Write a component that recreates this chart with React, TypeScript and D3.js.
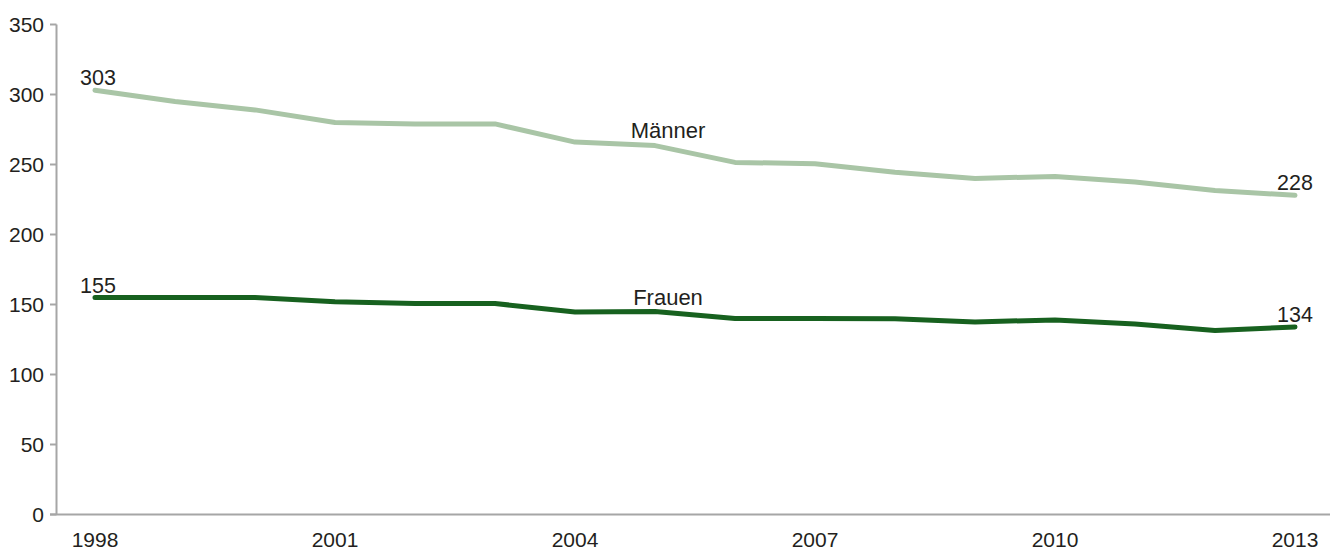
import React from "react";
import * as d3 from "d3";

const years = [1998, 1999, 2000, 2001, 2002, 2003, 2004, 2005, 2006, 2007, 2008, 2009, 2010, 2011, 2012, 2013];
const maenner = [303, 295, 289, 280, 279, 279, 266, 263.5, 251.5, 250.5, 244.5, 240, 241.5, 237.5, 231.5, 228];
const frauen = [155, 155, 155, 152, 150.7, 150.7, 144.6, 145, 140, 140, 139.8, 137.5, 139, 136, 131.5, 134];
const yTicks = [0, 50, 100, 150, 200, 250, 300, 350];
const xTicks = [1998, 2001, 2004, 2007, 2010, 2013];
const seriesNames = ["Männer", "Frauen"];

const W = 1336;
const H = 549;
const FONT = "'Liberation Sans', Arial, sans-serif";

export default function App() {
  const x = d3.scaleLinear().domain([1998, 2013]).range([95, 1295]);
  const y = d3.scaleLinear().domain([0, 350]).range([514.5, 24.5]);
  const line = d3
    .line<number>()
    .x((_, i) => x(years[i]))
    .y((d) => y(d));

  const axisColor = "#a6a6a6";
  const textColor = "#231f20";
  const mColor = "#a9c5a6";
  const fColor = "#17611f";

  const last = years.length - 1;

  return (
    <svg
      width={W}
      height={H}
      style={{ position: "absolute", left: 0, top: 0, display: "block", background: "#fff" }}
      fontFamily={FONT}
    >
      {/* y axis */}
      <line x1={56.5} x2={56.5} y1={y(350)} y2={y(0)} stroke={axisColor} strokeWidth={2} />
      {yTicks.map((t) => (
        <g key={t}>
          <line x1={50} x2={56.5} y1={y(t)} y2={y(t)} stroke={axisColor} strokeWidth={2} />
          <text x={44} y={y(t)} dy="0.36em" textAnchor="end" fontSize={21} fill={textColor}>
            {t}
          </text>
        </g>
      ))}
      {/* x axis */}
      <line x1={50} x2={1330} y1={y(0)} y2={y(0)} stroke={axisColor} strokeWidth={2} />
      {xTicks.map((t) => (
        <text key={t} x={x(t)} y={547} textAnchor="middle" fontSize={21} fill={textColor}>
          {t}
        </text>
      ))}

      {/* lines */}
      <path d={line(maenner) || ""} fill="none" stroke={mColor} strokeWidth={5} strokeLinecap="round" strokeLinejoin="round" />
      <path d={line(frauen) || ""} fill="none" stroke={fColor} strokeWidth={5} strokeLinecap="round" strokeLinejoin="round" />

      {/* end labels */}
      <text x={x(years[0]) + 3} y={y(maenner[0]) - 5} textAnchor="middle" fontSize={21.5} fill={textColor}>
        {maenner[0]}
      </text>
      <text x={x(years[0]) + 3} y={y(frauen[0]) - 5} textAnchor="middle" fontSize={21.5} fill={textColor}>
        {frauen[0]}
      </text>
      <text x={x(years[last])} y={y(maenner[last]) - 5} textAnchor="middle" fontSize={21.5} fill={textColor}>
        {maenner[last]}
      </text>
      <text x={x(years[last])} y={y(frauen[last]) - 5} textAnchor="middle" fontSize={21.5} fill={textColor}>
        {frauen[last]}
      </text>

      {/* series names */}
      <text x={668} y={138} textAnchor="middle" fontSize={22} fill={textColor}>
        {seriesNames[0]}
      </text>
      <text x={668} y={305} textAnchor="middle" fontSize={22} fill={textColor}>
        {seriesNames[1]}
      </text>
    </svg>
  );
}
